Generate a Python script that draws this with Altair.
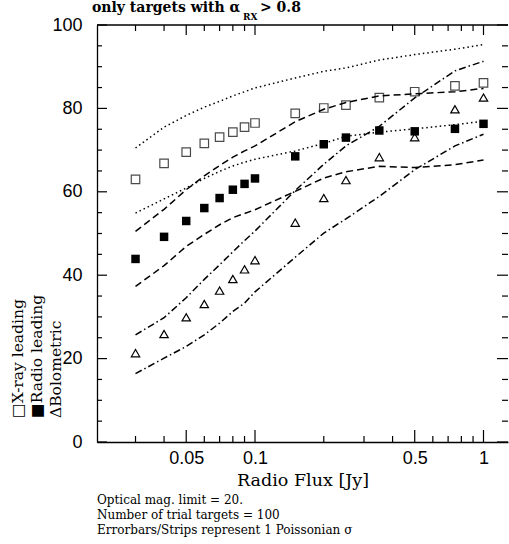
import altair as alt
import pandas as pd

# ---------------- data ----------------
flux = [0.03, 0.04, 0.05, 0.06, 0.07, 0.08, 0.09, 0.1, 0.15, 0.2, 0.25, 0.35, 0.5, 0.75, 1.0]

xray_pts = [63.0, 66.8, 69.5, 71.6, 73.1, 74.3, 75.5, 76.5, 78.8, 80.1, 80.8, 82.6, 84.0, 85.4, 86.1]
radio_pts = [43.9, 49.2, 53.0, 56.1, 58.5, 60.5, 61.9, 63.2, 68.5, 71.4, 73.0, 74.7, 74.5, 75.1, 76.3]
bol_pts = [21.3, 25.9, 29.9, 33.1, 36.3, 39.1, 41.4, 43.6, 52.6, 58.5, 62.8, 68.3, 73.1, 79.8, 82.6]

xray_hi = [70.5, 75.5, 78.3, 80.3, 81.7, 83.0, 84.0, 84.9, 87.3, 88.9, 89.7, 91.6, 92.9, 94.2, 95.3]
xray_lo = [54.9, 58.3, 60.9, 63.2, 64.9, 66.2, 67.1, 67.8, 69.8, 71.6, 73.3, 74.3, 75.1, 76.1, 76.9]
radio_hi = [50.5, 55.8, 60.5, 63.8, 66.3, 68.3, 69.8, 71.0, 76.8, 79.8, 81.4, 83.0, 83.5, 84.0, 84.8]
radio_lo = [37.3, 42.3, 46.9, 49.8, 52.1, 53.8, 54.8, 55.7, 60.1, 63.3, 64.8, 66.1, 65.8, 66.5, 67.6]
bol_hi = [25.7, 29.8, 34.6, 39.0, 42.5, 45.6, 48.3, 50.6, 60.3, 66.6, 71.0, 75.7, 82.5, 89.0, 91.3]
bol_lo = [16.4, 20.1, 22.9, 25.7, 28.5, 31.3, 33.3, 36.0, 44.3, 50.1, 53.5, 58.9, 65.3, 71.0, 73.8]

y_major = [0, 20, 40, 60, 80, 100]
y_minor = [5, 10, 15, 25, 30, 35, 45, 50, 55, 65, 70, 75, 85, 90, 95]
x_major = [0.05, 0.1, 0.5, 1.0]
x_minor = [0.03, 0.04, 0.06, 0.07, 0.08, 0.09, 0.2, 0.3, 0.4, 0.6, 0.7, 0.8, 0.9]

# ---------------- layout ----------------
W, H = 411, 417
SERIF = "DejaVu Serif"
SANS = "Liberation Sans"

xscale = alt.Scale(type="log", domain=[0.02035, 1.28], nice=False)
yscale = alt.Scale(domain=[0, 100], nice=False, zero=False)

xaxis = alt.Axis(values=x_major, format="~g", ticks=False, grid=False, domain=True,
                 domainColor="black", domainWidth=1.3, labelFont=SANS, labelFontSize=18,
                 labelColor="black", labelPadding=7, labelFlush=False,
                 title="Radio Flux [Jy]", titleFont=SERIF, titleFontSize=17.5,
                 titleFontWeight="normal", titleColor="black", titlePadding=4)
yaxis = alt.Axis(values=y_major, ticks=False, grid=False, domain=True,
                 domainColor="black", domainWidth=1.3, labelFont=SANS, labelFontSize=18,
                 labelColor="black", labelPadding=15, title=None)

X = lambda f: alt.X(f, scale=xscale, axis=xaxis)
Y = lambda f: alt.Y(f, scale=yscale, axis=yaxis)

# points
df_x = pd.DataFrame({"flux": flux, "pct": xray_pts})
df_r = pd.DataFrame({"flux": flux, "pct": radio_pts})
df_b = pd.DataFrame({"flux": flux, "pct": bol_pts})

p_x = alt.Chart(df_x).mark_square(filled=False, size=72, color="black", strokeWidth=1.2).encode(
    x=X("flux:Q"), y=Y("pct:Q"))
p_r = alt.Chart(df_r).mark_square(filled=True, size=72, color="black", opacity=1).encode(
    x=X("flux:Q"), y=Y("pct:Q"))
p_b = alt.Chart(df_b).mark_point(shape="triangle-up", filled=False, size=70, color="black",
                                 strokeWidth=1.2, opacity=1).encode(
    x=X("flux:Q"), y=Y("pct:Q"))

# strips (lines)
curves = [("xray_hi", "dotted", xray_hi), ("xray_lo", "dotted", xray_lo),
          ("radio_hi", "dashed", radio_hi), ("radio_lo", "dashed", radio_lo),
          ("bol_hi", "dashdot", bol_hi), ("bol_lo", "dashdot", bol_lo)]
rows = []
for name, style, vals in curves:
    for f, v in zip(flux, vals):
        rows.append({"flux": f, "pct": v, "curve": name, "style": style})
df_lines = pd.DataFrame(rows)

lines = alt.Chart(df_lines).mark_line(color="black", strokeWidth=1.5).encode(
    x=X("flux:Q"), y=Y("pct:Q"),
    detail="curve:N",
    order="flux:Q",
    strokeDash=alt.StrokeDash("style:N", legend=None,
                              scale=alt.Scale(domain=["dotted", "dashed", "dashdot"],
                                              range=[[1.5, 3], [7, 4], [7, 3, 1.5, 3]])))

# inward ticks
def xticks(values, length, top):
    df = pd.DataFrame({"flux": values})
    if top:
        yy, yy2 = alt.value(0), alt.value(length)
    else:
        yy, yy2 = alt.value(H), alt.value(H - length)
    return alt.Chart(df).mark_rule(color="black", strokeWidth=1.2).encode(
        x=X("flux:Q"), y=yy, y2=yy2)

def yticks(values, length, right):
    df = pd.DataFrame({"pct": values})
    if right:
        xx, xx2 = alt.value(W), alt.value(W - length)
    else:
        xx, xx2 = alt.value(0), alt.value(length)
    return alt.Chart(df).mark_rule(color="black", strokeWidth=1.2).encode(
        y=Y("pct:Q"), x=xx, x2=xx2)

ticks = [xticks(x_major, 12, False), xticks(x_minor, 6, False),
         xticks(x_major, 10, True), xticks(x_minor, 6, True),
         yticks(y_major, 10, False), yticks(y_minor, 5, False),
         yticks(y_major, 11, True), yticks(y_minor, 6, True)]

one = pd.DataFrame({"a": [0]})
top_rule = alt.Chart(one).mark_rule(color="black", strokeWidth=1.3).encode(
    x=alt.value(0), x2=alt.value(W), y=alt.value(0))

def txt(s, x, y, size, angle=0, align="left", baseline="alphabetic", font=SERIF, weight="normal"):
    kw = dict(align=align, baseline=baseline, font=font, fontSize=size,
              fontWeight=weight, color="black")
    if angle:
        kw["angle"] = angle
    return alt.Chart(pd.DataFrame({"t": [s]})).mark_text(**kw).encode(
        x=alt.value(x), y=alt.value(y), text="t:N")

texts = [
    txt("only targets with α", -5, -13, 14, weight="bold"),
    txt("RX", 146, -5, 9, weight="bold"),
    txt("> 0.8", 163, -13, 14, weight="bold"),
    txt("□X-ray leading", -79, 393, 15.5, angle=270, baseline="middle"),
    txt("■Radio leading", -60, 393, 15.5, angle=270, baseline="middle"),
    txt("ΔBolometric", -41, 393, 15.5, angle=270, baseline="middle"),
    txt("Optical mag. limit = 20.", 0, 479, 12),
    txt("Number of trial targets = 100", 0, 494, 12),
    txt("Errorbars/Strips represent 1 Poissonian σ", 0, 509, 12),
]

chart = alt.layer(p_x, lines, p_r, p_b, *ticks, top_rule, *texts).properties(
    width=W, height=H,
    padding={"left": 97, "top": 25, "right": 1, "bottom": 102},
    autosize=alt.AutoSizeParams(type="none"),
    background="white",
).configure_view(stroke=None)

chart.save("out.html", embed_options={"renderer": "svg", "actions": False})
